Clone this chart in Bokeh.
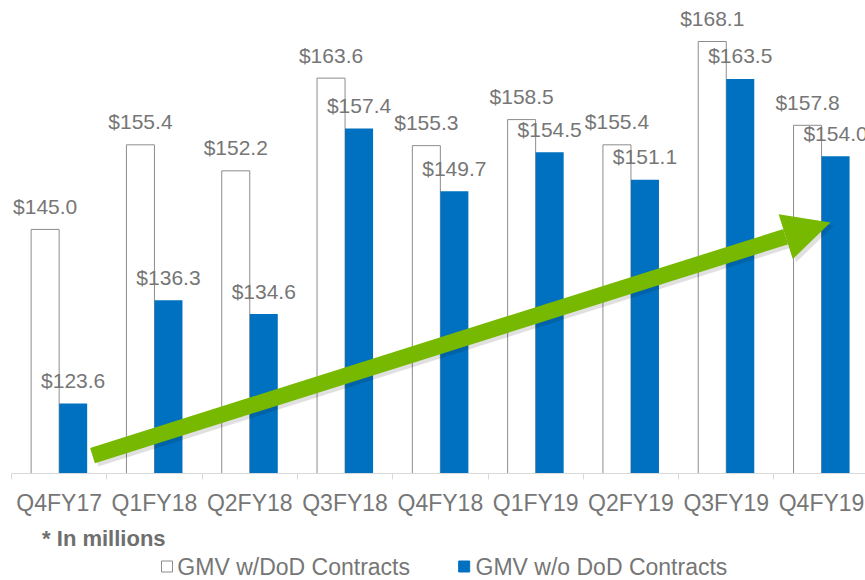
from bokeh.plotting import figure
from bokeh.layouts import column
from bokeh.models import (ColumnDataSource, Range1d, FixedTicker, LinearAxis, Arrow, NormalHead)
from bokeh.core.properties import value
from bokeh.embed import file_html
from bokeh.resources import INLINE

categories = ["Q4FY17", "Q1FY18", "Q2FY18", "Q3FY18", "Q4FY18", "Q1FY19", "Q2FY19", "Q3FY19", "Q4FY19"]
gmv_with_dod = [145.0, 155.4, 152.2, 163.6, 155.3, 158.5, 155.4, 168.1, 157.8]
gmv_without_dod = [123.6, 136.3, 134.6, 157.4, 149.7, 154.5, 151.1, 163.5, 154.0]
series_names = ["GMV w/DoD Contracts", "GMV w/o DoD Contracts"]
note_text = "* In millions"

FONT = "Liberation Sans"
TEXT_GRAY = "#767676"
BLUE = "#0070C0"
GREEN = "#76B900"
OUTLINE = "#8c8c8c"
Y_MIN = 115.0
Y_MAX = 173.14
BAR_W = 0.294

n = len(categories)
centers = [i + 0.5 for i in range(n)]

src = ColumnDataSource(dict(
    xw=[c - BAR_W / 2 for c in centers],
    xo=[c + BAR_W / 2 for c in centers],
    w=gmv_with_dod,
    o=gmv_without_dod,
    wl=["$%.1f" % v for v in gmv_with_dod],
    ol=["$%.1f" % v for v in gmv_without_dod],
))

p = figure(width=865, height=518, frame_width=854, frame_height=473,
           output_backend="svg", toolbar_location=None,
           x_range=Range1d(0, 854 / 95.3), y_range=Range1d(Y_MIN, Y_MAX),
           y_axis_location=None, x_axis_location=None,
           min_border_left=11, min_border_right=0, min_border_top=0, min_border_bottom=0)
p.outline_line_color = None
p.xgrid.visible = False
p.ygrid.visible = False
p.background_fill_color = "white"
p.border_fill_color = "white"

p.vbar(x="xw", top="w", bottom=Y_MIN, width=BAR_W, source=src,
       fill_color="white", line_color=OUTLINE, line_width=1)
p.vbar(x="xo", top="o", bottom=Y_MIN, width=BAR_W, source=src,
       fill_color=BLUE, line_color=None)

p.text(x="xw", y="w", text="wl", source=src, text_align="center", text_baseline="middle",
       y_offset=-23, text_font=value(FONT), text_font_size="21px", text_color=TEXT_GRAY)
p.text(x="xo", y="o", text="ol", source=src, text_align="center", text_baseline="middle",
       y_offset=-23, text_font=value(FONT), text_font_size="21px", text_color=TEXT_GRAY)

# trend arrow (decorative annotation) with soft shadow
a_x0, a_y0, a_x1, a_y1 = 0.85, 117.2, 8.594, 145.85
sx, sy = 0.035, -0.4
p.add_layout(Arrow(x_start=a_x0 + sx, y_start=a_y0 + sy, x_end=a_x1 + sx, y_end=a_y1 + sy,
                   line_color="#000000", line_alpha=0.12, line_width=16, line_cap="butt",
                   end=NormalHead(size=47, fill_color="#000000", fill_alpha=0.12, line_color=None)))
p.add_layout(Arrow(x_start=a_x0, y_start=a_y0, x_end=a_x1, y_end=a_y1,
                   line_color=GREEN, line_width=16, line_cap="butt",
                   end=NormalHead(size=47, fill_color=GREEN, line_color=None)))

xaxis = LinearAxis(ticker=FixedTicker(ticks=centers, minor_ticks=list(range(n + 1))),
                   major_label_overrides={c: lab for c, lab in zip(centers, categories)})
xaxis.axis_line_color = "#d9d9d9"
xaxis.major_tick_line_color = None
xaxis.major_tick_in = 0
xaxis.major_tick_out = 0
xaxis.minor_tick_line_color = "#d9d9d9"
xaxis.minor_tick_in = 0
xaxis.minor_tick_out = 6
xaxis.major_label_standoff = 10
xaxis.major_label_text_font = FONT
xaxis.major_label_text_font_size = "23px"
xaxis.major_label_text_color = TEXT_GRAY
p.add_layout(xaxis, "below")

# footer: note and legend (pixel-space panel)
p2 = figure(width=865, height=62, output_backend="svg", toolbar_location=None,
            x_range=Range1d(0, 865), y_range=Range1d(0, 62),
            x_axis_location=None, y_axis_location=None,
            min_border_left=0, min_border_right=0, min_border_top=0, min_border_bottom=0)
p2.outline_line_color = None
p2.xgrid.visible = False
p2.ygrid.visible = False
p2.border_fill_color = "white"

p2.text(x=[31], y=[42], text=[note_text], text_baseline="middle", text_align="left",
        text_font=value(FONT), text_font_size="22px", text_font_style="bold", text_color="#6e6e6e")

leg_src = ColumnDataSource(dict(
    sqx=[157.5, 458.5], sqy=[14, 14],
    fill=["white", BLUE], line=[OUTLINE, BLUE],
    tx=[168, 470], ty=[14, 14], label=series_names,
))
p2.scatter(x="sqx", y="sqy", marker="square", size=11, source=leg_src,
           fill_color="fill", line_color="line", line_width=1)
p2.text(x="tx", y="ty", text="label", source=leg_src, text_baseline="middle", text_align="left",
        text_font=value(FONT), text_font_size="23px", text_color=TEXT_GRAY)

layout = column(p, p2, spacing=0)
open("out.html", "w").write(file_html(layout, INLINE))
